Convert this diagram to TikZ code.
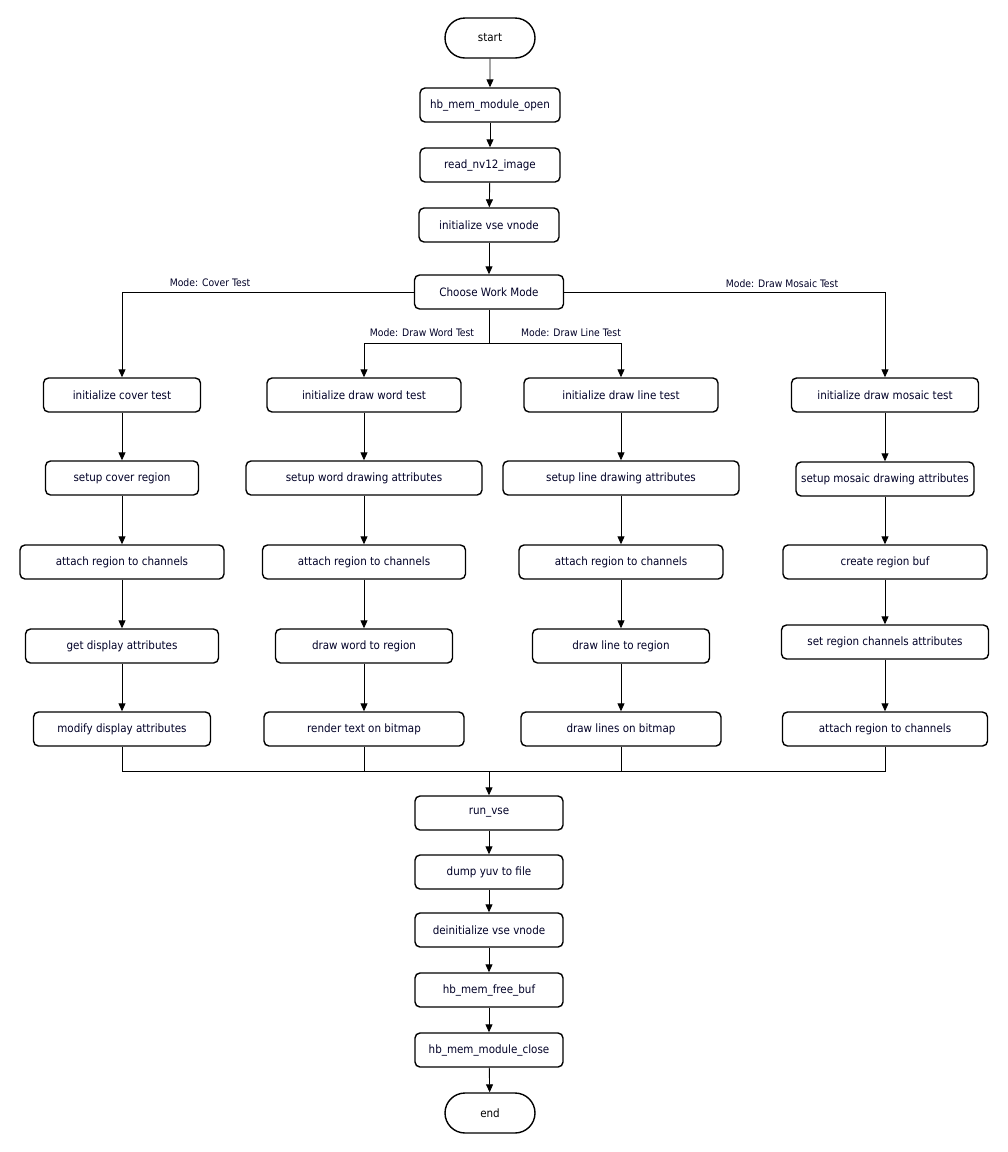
\documentclass[tikz,border=0pt]{standalone}
\usepackage{fontspec}
\setmainfont{DejaVu Sans Condensed}
\usetikzlibrary{arrows.meta,shapes.misc}
\tikzset{
  box/.style={draw, line width=1.4pt, rounded corners=5pt, minimum height=34pt, inner sep=0pt, font=\fontsize{11.5}{13}\selectfont, text=black!85!blue},
  term/.style={draw, line width=1.4pt, rounded rectangle, minimum width=90pt, minimum height=40pt, inner sep=0pt, font=\fontsize{11.5}{13}\selectfont},
  arr/.style={-{Triangle[length=8pt,width=7pt]}, line width=0.9pt},
  ln/.style={line width=0.9pt},
  lbl/.style={font=\fontsize{10.3}{12}\selectfont, text=black!85!blue, inner sep=0pt}
}
\begin{document}
\begin{tikzpicture}[x=1pt,y=-1pt]
\useasboundingbox (0,0) rectangle (1008,1152);
% main column
\node[term] (start) at (490,38) {start};
\node[box, minimum width=140pt] (open) at (490,105) {hb\_mem\_module\_open};
\node[box, minimum width=140pt] (read) at (490,165) {read\_nv12\_image};
\node[box, minimum width=140pt] (init) at (489,225) {initialize vse vnode};
\node[box, minimum width=149pt] (choose) at (489,292) {Choose Work Mode};
% column 1
\node[box, minimum width=157pt] (a1) at (122,395) {initialize cover test};
\node[box, minimum width=153pt] (a2) at (122,478) {setup cover region};
\node[box, minimum width=204pt] (a3) at (122,562) {attach region to channels};
\node[box, minimum width=193pt] (a4) at (122,646) {get display attributes};
\node[box, minimum width=177pt] (a5) at (122,729) {modify display attributes};
% column 2
\node[box, minimum width=194pt] (b1) at (364,395) {initialize draw word test};
\node[box, minimum width=236pt] (b2) at (364,478) {setup word drawing attributes};
\node[box, minimum width=203pt] (b3) at (364,562) {attach region to channels};
\node[box, minimum width=177pt] (b4) at (364,646) {draw word to region};
\node[box, minimum width=200pt] (b5) at (364,729) {render text on bitmap};
% column 3
\node[box, minimum width=194pt] (c1) at (621,395) {initialize draw line test};
\node[box, minimum width=236pt] (c2) at (621,478) {setup line drawing attributes};
\node[box, minimum width=204pt] (c3) at (621,562) {attach region to channels};
\node[box, minimum width=177pt] (c4) at (621,646) {draw line to region};
\node[box, minimum width=200pt] (c5) at (621,729) {draw lines on bitmap};
% column 4
\node[box, minimum width=187pt] (d1) at (885,395) {initialize draw mosaic test};
\node[box, minimum width=178pt] (d2) at (885,479) {setup mosaic drawing attributes};
\node[box, minimum width=204pt] (d3) at (885,562) {create region buf};
\node[box, minimum width=207pt] (d4) at (885,642) {set region channels attributes};
\node[box, minimum width=205pt] (d5) at (885,729) {attach region to channels};
% bottom column
\node[box, minimum width=148pt] (run) at (489,813) {run\_vse};
\node[box, minimum width=148pt] (dump) at (489,872) {dump yuv to file};
\node[box, minimum width=148pt] (deinit) at (489,930) {deinitialize vse vnode};
\node[box, minimum width=148pt] (free) at (489,990) {hb\_mem\_free\_buf};
\node[box, minimum width=148pt] (close) at (489,1050) {hb\_mem\_module\_close};
\node[term] (end) at (490,1113) {end};
% main edges
\draw[arr] (start) -- (open);
\draw[arr] (open) -- (read);
\draw[arr] (read) -- (init);
\draw[arr] (init) -- (choose);
% branches
\coordinate (split) at (489,343);
\draw[arr] (choose.west) -| (a1.north);
\draw[ln] (choose.south) -- (split);
\draw[arr] (split) -| (b1.north);
\draw[arr] (split) -| (c1.north);
\draw[arr] (choose.east) -| (d1.north);
\node[lbl] (la) at (210,283) {Mode: Cover Test};
\node[lbl] (lb) at (422,333) {Mode: Draw Word Test};
\node[lbl] (lc) at (571,333) {Mode: Draw Line Test};
\node[lbl] (ld) at (782,284) {Mode: Draw Mosaic Test};
% column edges
\foreach \c in {a,b,c,d}{
  \draw[arr] (\c1) -- (\c2);
  \draw[arr] (\c2) -- (\c3);
  \draw[arr] (\c3) -- (\c4);
  \draw[arr] (\c4) -- (\c5);
}
% merge
\coordinate (merge) at (489,771);
\draw[ln] (a5.south) |- (merge);
\draw[ln] (b5.south) |- (merge);
\draw[ln] (c5.south) |- (merge);
\draw[ln] (d5.south) |- (merge);
\draw[arr] (merge) -- (run);
\draw[arr] (run) -- (dump);
\draw[arr] (dump) -- (deinit);
\draw[arr] (deinit) -- (free);
\draw[arr] (free) -- (close);
\draw[arr] (close) -- (end);
\end{tikzpicture}
\end{document}
